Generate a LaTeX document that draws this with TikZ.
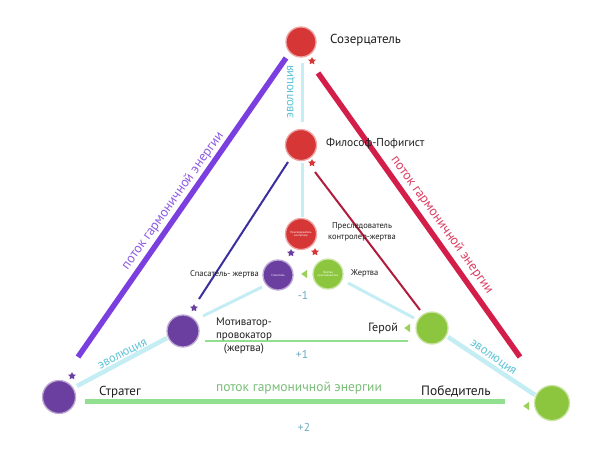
\documentclass[tikz,border=0pt]{standalone}
\usepackage{fontspec}
\setmainfont{PT Sans}
\usetikzlibrary{shapes.geometric}
\definecolor{bred}{HTML}{D63636}
\definecolor{bpur}{HTML}{6B3FA0}
\definecolor{bgrn}{HTML}{8CC63E}
\definecolor{lpur}{HTML}{7B3FE0}
\definecolor{lred}{HTML}{D41E4A}
\definecolor{lblue}{HTML}{3B2F9E}
\definecolor{ldred}{HTML}{B01C3C}
\definecolor{lcyan}{HTML}{C4EEF4}
\definecolor{lgrn}{HTML}{90E090}
\definecolor{tevo}{HTML}{5CC4D6}
\definecolor{tnum}{HTML}{6AAAC0}
\tikzset{
  ball/.style={circle, inner sep=0pt, line width=1.3pt, text=white, font=\fontsize{3}{3.5}\selectfont, align=center},
  redball/.style={ball, fill=bred, draw=bred!45!white},
  purball/.style={ball, fill=bpur, draw=bpur!45!white},
  grnball/.style={ball, fill=bgrn, draw=bgrn!45!white},
  rstar/.style={star, star points=5, star point ratio=2, minimum size=8pt, inner sep=0pt, fill=#1},
  garrow/.style={isosceles triangle, shape border rotate=180, isosceles triangle apex angle=70, minimum size=6pt, inner sep=0pt, fill=bgrn!85!white},
  lbl/.style={font=\fontsize{#1}{#1}\selectfont, text=black!88, inner sep=0pt},
  evo/.style={font=\fontsize{12.5}{12.5}\selectfont, text=tevo, inner sep=0pt},
  num/.style={font=\fontsize{11.5}{11.5}\selectfont, text=tnum, inner sep=0pt},
  thick line/.style={line width=5.5pt, draw=#1},
  evoline/.style={line width=#1, draw=lcyan}
}
\begin{document}
\begin{tikzpicture}[x=1pt,y=-1pt]
\useasboundingbox[fill=white] (0,0) rectangle (604,450);

% endpoints of connectors
\coordinate (pA) at (286,58);  \coordinate (pB) at (78,357);
\coordinate (rA) at (318,73);  \coordinate (rB) at (520,357);
\coordinate (bA) at (288,162); \coordinate (bB) at (199,299);
\coordinate (dA) at (315,172); \coordinate (dB) at (420,310);
\coordinate (v1A) at (302,63); \coordinate (v1B) at (302,122);
\coordinate (v2A) at (302,163); \coordinate (v2B) at (302,217);
\coordinate (c1A) at (77,386); \coordinate (c1B) at (167,338);
\coordinate (c2A) at (203,316); \coordinate (c2B) at (262,287);
\coordinate (c3A) at (348,283); \coordinate (c3B) at (414,318);
\coordinate (c4A) at (448,337); \coordinate (c4B) at (535,395);
\coordinate (g1A) at (205,341); \coordinate (g1B) at (408,341);
\coordinate (g2A) at (85,401);  \coordinate (g2B) at (505,401);

% connectors
\draw[evoline=3pt] (v1A) -- (v1B);
\draw[evoline=3pt] (v2A) -- (v2B);
\draw[evoline=4.5pt] (c1A) -- (c1B);
\draw[evoline=3pt] (c2A) -- (c2B);
\draw[evoline=3pt] (c3A) -- (c3B);
\draw[evoline=4.5pt] (c4A) -- (c4B);
\draw[thick line=lpur] (pA) -- (pB);
\draw[thick line=lred] (rA) -- (rB);
\draw[line width=2pt, draw=lblue] (bA) -- (bB);
\draw[line width=2pt, draw=ldred] (dA) -- (dB);
\draw[line width=2pt, draw=lgrn] (g1A) -- (g1B);
\draw[line width=5pt, draw=lgrn] (g2A) -- (g2B);

% balls
\node[redball, minimum size=30pt] (soz) at (301,42) {};
\node[redball, minimum size=31pt] (fil) at (301,145) {};
\node[redball, minimum size=31pt] (pres) at (301,234) {Преследователь\\контролер};
\node[purball, minimum size=30pt] (spas) at (278,275) {Спаситель};
\node[grnball, minimum size=30pt] (zhe) at (328,274) {Жертва\\преследователь};
\node[purball, minimum size=32pt] (mot) at (183,331) {};
\node[grnball, minimum size=32pt] (ger) at (432,328) {};
\node[purball, minimum size=33pt] (str) at (59,397) {};
\node[grnball, minimum size=35pt] (pob) at (552,403) {};

% small arrow heads
\node[rstar=bred] (s1) at (312,61) {};
\node[rstar=bred] (s2) at (312,163) {};
\node[rstar=bred] (s3) at (315,252) {};
\node[rstar=bpur] (s4) at (291,253) {};
\node[rstar=bpur] (s5) at (194,308) {};
\node[rstar=bpur] (s6) at (72,376) {};
\node[garrow] (a1) at (305,274) {};
\node[garrow] (a2) at (408,328) {};
\node[garrow] (a3) at (527,406) {};

% labels
\node[lbl=13, anchor=west] (tsoz) at (330,40) {Созерцатель};
\node[lbl=11.5, anchor=west] (tfil) at (326,144) {Философ-Пофигист};
\node[lbl=8.5, align=center] (tpres) at (362,232) {Преследователь\\[2pt]контролер-жертва};
\node[lbl=8.5, anchor=east] (tspas) at (259,274) {Спасатель- жертва};
\node[lbl=8.5, anchor=west] (tzhe) at (351,273) {Жертва};
\node[lbl=11, align=center] (tmot) at (244,336) {Мотиватор-\\[2pt]провокатор\\[2pt](жертва)};
\node[lbl=12, anchor=east] (tger) at (398,328) {Герой};
\node[lbl=13, anchor=west] (tstr) at (99,392) {Стратег};
\node[lbl=13.5, anchor=west] (tpob) at (421,391) {Победитель};

\node[num] (m1) at (303,295) {-1};
\node[num] (p1) at (302,354) {+1};
\node[num] (p2) at (304,427) {+2};

\node[font=\fontsize{13.5}{13.5}\selectfont, text=lgrn!85!black, inner sep=0pt] (fbot) at (299,388) {поток гармоничной энергии};
\node[font=\fontsize{13.5}{13.5}\selectfont, text=lpur!85!white, inner sep=0pt, rotate=54.6] (fleft) at (173,201) {поток гармоничной энергии};
\node[font=\fontsize{13.5}{13.5}\selectfont, text=lred!85!white, inner sep=0pt, rotate=-54.2] (fright) at (442,225) {поток гармоничной энергии};

\node[evo, rotate=90] (e1) at (291,92) {эволюция};
\node[evo, rotate=27] (e2) at (123,355) {эволюция};
\node[evo, rotate=-35] (e3) at (493,358) {эволюция};
\end{tikzpicture}
\end{document}
